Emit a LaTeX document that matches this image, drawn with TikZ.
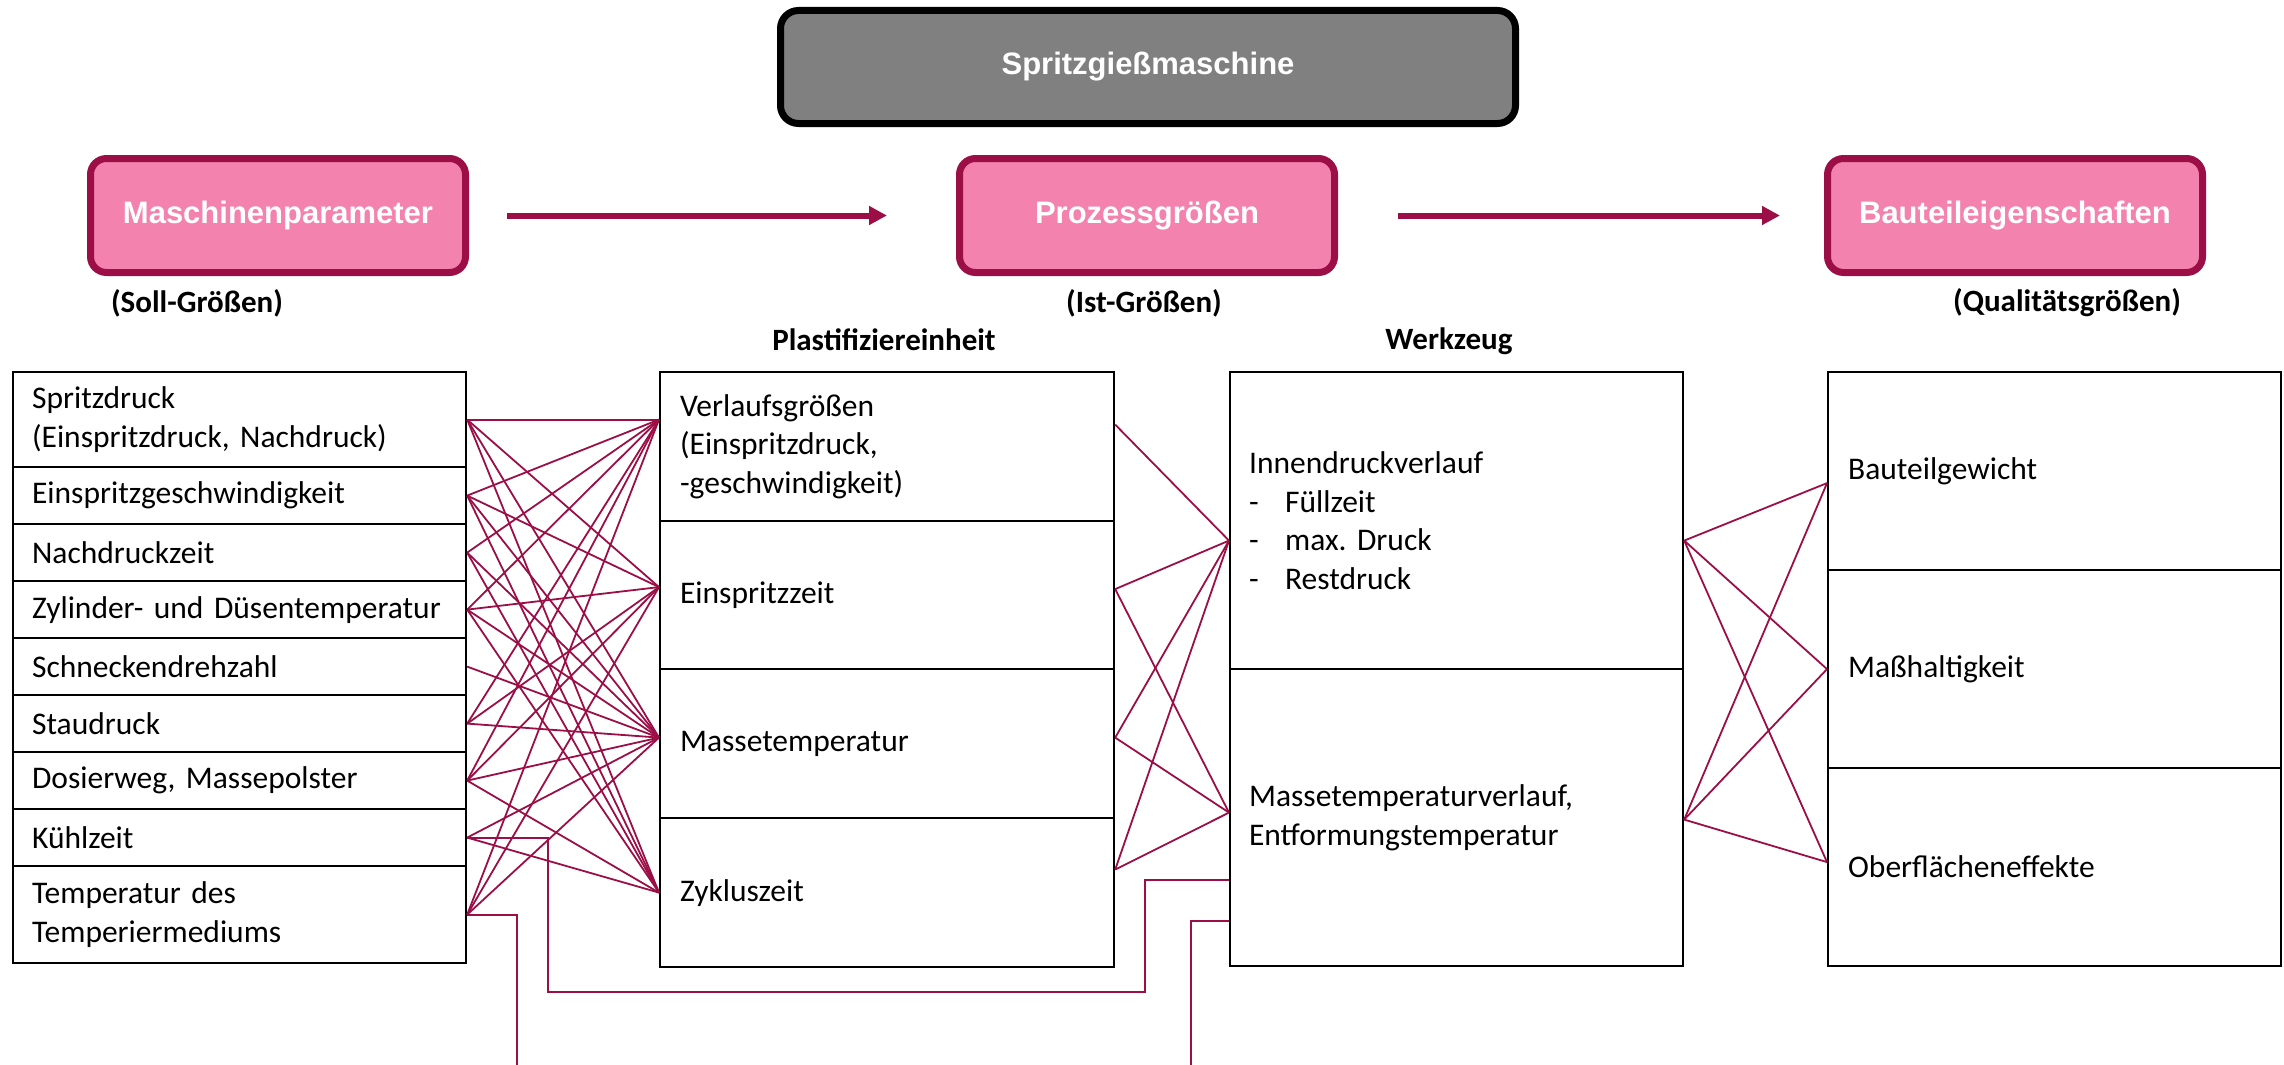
\documentclass[tikz,border=0pt]{standalone}
\usepackage{fontspec}
\setmainfont{Carlito}
\newfontfamily\headfont{Liberation Sans}
\usetikzlibrary{arrows.meta}
\frenchspacing

\definecolor{wine}{RGB}{155,15,70}
\definecolor{rose}{RGB}{244,130,174}
\definecolor{machgray}{RGB}{128,128,128}

\begin{document}
\begin{tikzpicture}[x=1pt,y=-1pt,
  body/.style={font=\fontsize{31.5}{38.5}\selectfont},
  cell/.style={body, draw=black, line width=2.2pt, anchor=north west,
    inner xsep=19pt, inner ysep=0pt, align=left},
  stage/.style={draw=wine, fill=rose, line width=7pt, rounded corners=16pt,
    text=white, font=\headfont\bfseries\fontsize{31}{36}\selectfont,
    minimum width=375pt, minimum height=114pt, inner sep=0pt},
  machine/.style={draw=black, fill=machgray, line width=7pt, rounded corners=18pt,
    text=white, font=\headfont\bfseries\fontsize{31}{36}\selectfont,
    minimum width=735pt, minimum height=113pt, inner sep=0pt},
  tag/.style={font=\bfseries\fontsize{31}{36}\selectfont, inner sep=0pt},
  flow/.style={draw=wine, line width=6pt, -{Triangle[length=18pt,width=18pt]}},
  wire/.style={draw=wine, line width=1.8pt},
]
\useasboundingbox (0,0) rectangle (2284,1065);

% machine and the three stages
\node[machine] (SGM) at (1148,67) {Spritzgießmaschine};
\node[stage] (MP) at (278,215.5) {Maschinenparameter};
\node[stage] (PG) at (1147,215.5) {Prozessgrößen};
\node[stage] (BE) at (2015,215.5) {Bauteileigenschaften};

\draw[flow, shorten <=38pt, shorten >=69pt] (MP.east) -- (PG.west);
\draw[flow, shorten <=60pt, shorten >=44pt] (PG.east) -- (BE.west);

\node[tag] (soll) at (197,303) {(Soll-Größen)};
\node[tag] (ist) at (1144,303) {(Ist-Größen)};
\node[tag] (qual) at (2067,303) {(Qualitätsgrößen)};
\node[tag] (plast) at (884,340) {Plastifiziereinheit};
\node[tag] (werk) at (1449,341) {Werkzeug};

% machine parameters
\begin{scope}[every node/.append style={cell, minimum width=453pt, text width=415pt}]
\node[minimum height=95pt] (L1) at (12,371) {Spritzdruck\\(Einspritzdruck, Nachdruck)};
\node[minimum height=57pt] (L2) at (12,466) {Einspritzgeschwindigkeit};
\node[minimum height=57pt] (L3) at (12,523) {Nachdruckzeit};
\node[minimum height=57pt] (L4) at (12,580) {Zylinder- und Düsentemperatur};
\node[minimum height=57pt] (L5) at (12,637) {Schneckendrehzahl};
\node[minimum height=57pt] (L6) at (12,694) {Staudruck};
\node[minimum height=57pt] (L7) at (12,751) {Dosierweg, Massepolster};
\node[minimum height=57pt] (L8) at (12,808) {Kühlzeit};
\node[minimum height=97pt] (L9) at (12,865) {Temperatur des\\Temperiermediums};
\end{scope}

% plasticising unit
\begin{scope}[every node/.append style={cell, minimum width=454pt, text width=414pt, inner xsep=20pt}]
\node[minimum height=149pt] (M1) at (659,371) {Verlaufsgrößen\\(Einspritzdruck,\\-geschwindigkeit)};
\node[minimum height=148pt] (M2) at (659,520) {Einspritzzeit};
\node[minimum height=149pt] (M3) at (659,668) {Massetemperatur};
\node[minimum height=149pt] (M4) at (659,817) {Zykluszeit};
\end{scope}

% mould
\begin{scope}[every node/.append style={cell, minimum width=453pt, text width=415pt}]
\node[minimum height=297pt] (WI) at (1229,371) {Innendruckverlauf\\
  \makebox[36pt][l]{-}Füllzeit\\\makebox[36pt][l]{-}max. Druck\\\makebox[36pt][l]{-}Restdruck};
\node[minimum height=297pt] (WM) at (1229,668) {Massetemperaturverlauf,\\Entformungstemperatur};
\end{scope}

% part properties
\begin{scope}[every node/.append style={cell, minimum width=453pt, text width=413pt, inner xsep=20pt}]
\node[minimum height=198pt] (B1) at (1827,371) {Bauteilgewicht};
\node[minimum height=198pt] (B2) at (1827,569) {Maßhaltigkeit};
\node[minimum height=198pt] (B3) at (1827,767) {Oberflächeneffekte};
\end{scope}

% connection points
\coordinate (m1) at (M1.west |- L1.east);
\coordinate (m2) at ([yshift=8pt]M2.west);
\coordinate (m3) at ([yshift=6pt]M3.west);
\coordinate (m4) at (M4.west);
\coordinate (r1) at ([yshift=22pt]M1.east);
\coordinate (r2) at ([yshift=6pt]M2.east);
\coordinate (r3) at ([yshift=6pt]M3.east);
\coordinate (r4) at ([yshift=23pt]M4.east);
\coordinate (wi) at ([yshift=-20pt]WI.west);
\coordinate (wm) at ([yshift=5pt]WM.west);
\coordinate (wir) at ([yshift=-20pt]WI.east);
\coordinate (wmr) at ([yshift=-2pt]WM.east);
\coordinate (b1) at ([yshift=-12pt]B1.west);
\coordinate (b2) at (B2.west);
\coordinate (b3) at ([yshift=5pt]B3.west);
\coordinate (wk) at ([yshift=-62pt]WM.west);
\coordinate (wt) at ([yshift=-103pt]WM.west);

% parameters -> process values of the plasticising unit
\foreach \s/\t in {L1/m1,L1/m2,L1/m3,L1/m4,
                   L2/m1,L2/m2,L2/m3,L2/m4,
                   L3/m1,L3/m3,L3/m4,
                   L4/m1,L4/m2,L4/m3,L4/m4,
                   L5/m3,
                   L6/m1,L6/m2,L6/m3,
                   L7/m1,L7/m2,L7/m3,L7/m4,
                   L8/m3,L8/m4,
                   L9/m1,L9/m2,L9/m3}
  \draw[wire] (\s.east) -- (\t);

% plasticising unit -> mould
\foreach \s/\t in {r1/wi,r2/wi,r2/wm,r3/wi,r3/wm,r4/wi,r4/wm}
  \draw[wire] (\s) -- (\t);

% mould -> part properties
\foreach \s in {wir,wmr}
  \foreach \t in {b1,b2,b3}
    \draw[wire] (\s) -- (\t);

% direct links to the mould
\draw[wire] (L8.east) -| (548,992) -| ([xshift=-84pt]wk) -- (wk);
\draw[wire] (L9.east) -| (517,1065);
\draw[wire] (wt) -| (1191,1065);
\end{tikzpicture}
\end{document}
